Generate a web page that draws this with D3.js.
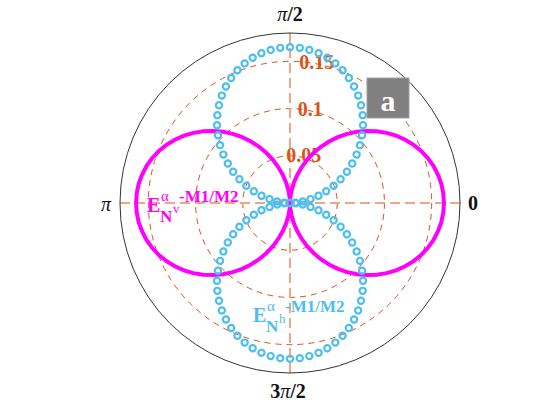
<!DOCTYPE html>
<html>
<head>
<meta charset="utf-8">
<script src="https://cdn.jsdelivr.net/npm/d3@7"></script>
<style>
  body { margin: 0; background: #fff; }
  svg text { font-family: "Liberation Serif", "Times New Roman", serif; }
</style>
</head>
<body>
<svg id="polarChart" width="560" height="420"></svg>
<script>
const svg = d3.select("#polarChart");

const width = 560;
const height = 420;
const cx = 290, cy = 203;
const rMax = 0.18;

// angles in degrees (0..356.4, step 3.6)
const thetaDeg = d3.range(0, 360, 3.6);

// E_Nv - M1/M2 (magenta line)
const rV = [
  0.1630, 0.1626, 0.1615, 0.1595, 0.1569, 0.1535, 0.1494, 0.1446, 0.1391, 0.1330,
  0.1264, 0.1192, 0.1115, 0.1034, 0.0950, 0.0861, 0.0771, 0.0679, 0.0585, 0.0491,
  0.0398, 0.0307, 0.0219, 0.0135, 0.0059, 0.0000,
  0.0059, 0.0135, 0.0219, 0.0307, 0.0398, 0.0491, 0.0585, 0.0679, 0.0771, 0.0861,
  0.0950, 0.1034, 0.1115, 0.1192, 0.1264, 0.1330, 0.1391, 0.1446, 0.1494, 0.1535,
  0.1569, 0.1595, 0.1615, 0.1626, 0.1630,
  0.1626, 0.1615, 0.1595, 0.1569, 0.1535, 0.1494, 0.1446, 0.1391, 0.1330, 0.1264,
  0.1192, 0.1115, 0.1034, 0.0950, 0.0861, 0.0771, 0.0679, 0.0585, 0.0491, 0.0398,
  0.0307, 0.0219, 0.0135, 0.0059, 0.0000,
  0.0059, 0.0135, 0.0219, 0.0307, 0.0398, 0.0491, 0.0585, 0.0679, 0.0771, 0.0861,
  0.0950, 0.1034, 0.1115, 0.1192, 0.1264, 0.1330, 0.1391, 0.1446, 0.1494, 0.1535,
  0.1569, 0.1595, 0.1615, 0.1626
];

// E_Nh - M1/M2 (blue markers)
const rH = [
  0.0000, 0.0060, 0.0137, 0.0221, 0.0311, 0.0403, 0.0497, 0.0592, 0.0687, 0.0780,
  0.0872, 0.0961, 0.1047, 0.1129, 0.1207, 0.1279, 0.1347, 0.1408, 0.1463, 0.1512,
  0.1554, 0.1588, 0.1615, 0.1634, 0.1646, 0.1650,
  0.1646, 0.1634, 0.1615, 0.1588, 0.1554, 0.1512, 0.1463, 0.1408, 0.1347, 0.1279,
  0.1207, 0.1129, 0.1047, 0.0961, 0.0872, 0.0780, 0.0687, 0.0592, 0.0497, 0.0403,
  0.0311, 0.0221, 0.0137, 0.0060, 0.0000,
  0.0060, 0.0137, 0.0221, 0.0311, 0.0403, 0.0497, 0.0592, 0.0687, 0.0780, 0.0872,
  0.0961, 0.1047, 0.1129, 0.1207, 0.1279, 0.1347, 0.1408, 0.1463, 0.1512, 0.1554,
  0.1588, 0.1615, 0.1634, 0.1646, 0.1650,
  0.1646, 0.1634, 0.1615, 0.1588, 0.1554, 0.1512, 0.1463, 0.1408, 0.1347, 0.1279,
  0.1207, 0.1129, 0.1047, 0.0961, 0.0872, 0.0780, 0.0687, 0.0592, 0.0497, 0.0403,
  0.0311, 0.0221, 0.0137, 0.0060
];

const rTicks = [0.05, 0.1, 0.15];
const rTickLabels = ["0.05", "0.1", "0.15"];

const orange = "#D95319";
const peach = "#F0A684";
const magenta = "#FF00FF";
const blue = "#4DBEEE";

const r = d3.scaleLinear().domain([0, rMax]).range([0, 170]);

const g = svg.append("g").attr("transform", `translate(${cx},${cy})`);

const px = (rad, deg) => r(rad) * Math.cos(deg * Math.PI / 180);
const py = (rad, deg) => -r(rad) * Math.sin(deg * Math.PI / 180);

// dashed grid circles
g.selectAll("circle.grid")
  .data(rTicks)
  .join("circle")
  .attr("class", "grid")
  .attr("r", d => r(d))
  .attr("fill", "none")
  .attr("stroke", orange)
  .attr("stroke-width", 1)
  .attr("stroke-dasharray", "6,5");

// axis lines
g.append("line")
  .attr("x1", -r(rMax)).attr("x2", r(rMax)).attr("y1", 0).attr("y2", 0)
  .attr("stroke", peach).attr("stroke-width", 2).attr("stroke-dasharray", "10,5");
g.append("line")
  .attr("y1", -r(rMax)).attr("y2", r(rMax)).attr("x1", 0).attr("x2", 0)
  .attr("stroke", peach).attr("stroke-width", 2).attr("stroke-dasharray", "10,5");

// outer circle
g.append("circle")
  .attr("r", r(rMax))
  .attr("fill", "none")
  .attr("stroke", "#333")
  .attr("stroke-width", 1);

// radial tick labels
g.selectAll("text.rtick")
  .data(rTicks)
  .join("text")
  .attr("class", "rtick")
  .attr("x", (d, i) => px(d + 0.001, 82) + 7)
  .attr("y", (d, i) => py(d + 0.001, 82))
  .attr("text-anchor", "middle")
  .attr("dominant-baseline", "central")
  .attr("fill", orange)
  .style("font-size", "20px")
  .style("font-weight", "bold")
  .text((d, i) => rTickLabels[i]);

// magenta line
const pointsV = thetaDeg.map((t, i) => [px(rV[i], t), py(rV[i], t)]);
g.append("path")
  .attr("d", d3.line().curve(d3.curveLinearClosed)(pointsV))
  .attr("fill", "none")
  .attr("stroke", magenta)
  .attr("stroke-width", 4);

// blue markers
g.selectAll("circle.mk")
  .data(thetaDeg)
  .join("circle")
  .attr("class", "mk")
  .attr("cx", (t, i) => px(rH[i], t))
  .attr("cy", (t, i) => py(rH[i], t))
  .attr("r", 3.1)
  .attr("fill", "none")
  .attr("stroke", blue)
  .attr("stroke-width", 2.2);

// angle labels
const angLabels = [
  { t: "π/2", x: 290, y: 21 },
  { t: "3π/2", x: 288, y: 398 },
  { t: "π", x: 106, y: 211 },
  { t: "0", x: 473, y: 210 }
];
svg.selectAll("text.ang")
  .data(angLabels)
  .join("text")
  .attr("class", "ang")
  .attr("x", d => d.x)
  .attr("y", d => d.y)
  .attr("text-anchor", "middle")
  .attr("fill", "#111")
  .style("font-size", "20px")
  .style("font-weight", "bold")
  .each(function(d) {
    const el = d3.select(this);
    const parts = d.t.split("π");
    if (parts.length === 1) { el.text(d.t); return; }
    el.append("tspan").text(parts[0]);
    el.append("tspan").style("font-weight", "normal").style("font-style", "italic").text("π");
    el.append("tspan").text(parts[1]);
  });

// panel label "a"
svg.append("rect")
  .attr("x", 367).attr("y", 78).attr("width", 42).attr("height", 40)
  .attr("fill", "#808080").attr("stroke", "#a0a0a0").attr("stroke-width", 1);
svg.append("text")
  .attr("x", 388).attr("y", 111)
  .attr("text-anchor", "middle")
  .attr("fill", "#fff")
  .style("font-size", "30px")
  .style("font-weight", "bold")
  .text("a");

// annotations
function annot(x, y, sub, color) {
  const t = svg.append("text").attr("fill", color).style("font-weight", "bold");
  t.append("tspan").attr("x", x).attr("y", y).style("font-size", "20px").text("E");
  t.append("tspan").attr("x", x + 14).attr("y", y - 11).style("font-size", "15px")
    .style("font-weight", "normal").text("α");
  t.append("tspan").attr("x", x + 13).attr("y", y + 10).style("font-size", "17px").text("N");
  t.append("tspan").attr("x", x + 26).attr("y", y + 1).style("font-size", "13px")
    .style("font-weight", "normal").text(sub);
  t.append("tspan").attr("x", x + 32).attr("y", y - 10).style("font-size", "17px").text("-M1/M2");
}
annot(147, 212, "v", magenta);
annot(253, 322, "h", blue);
</script>
</body>
</html>
